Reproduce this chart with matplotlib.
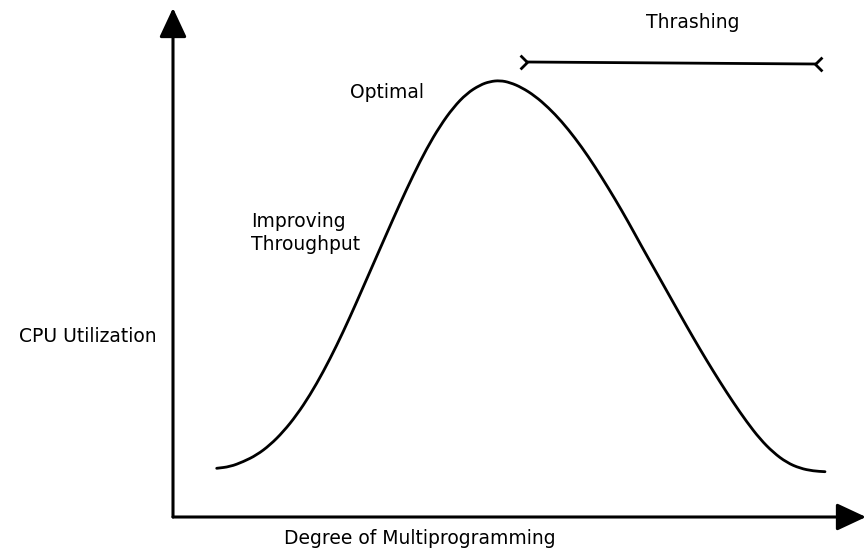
import matplotlib
matplotlib.use("Agg")
import matplotlib.pyplot as plt
from matplotlib.path import Path
from matplotlib.patches import PathPatch

# Diagram coordinates (x to the right, y downward, in image units)
curve_x = [216.7, 230, 243.3, 256.7, 270, 283.3, 296.7, 310, 323.3, 336.7, 350, 361.7,
           373.3, 386.7, 400, 413.3, 426.7, 440, 453.3, 466.7, 480, 490, 500,
           510, 521.7, 535, 548.3, 561.7, 575, 588.3, 601.7, 615, 628.3, 641.7,
           655, 666.7, 680, 693.3, 706.7, 720, 733.3, 746.7, 760, 773.3, 786.7,
           800, 813.3, 825]
curve_y = [468.3, 466.7, 461.7, 455, 445, 431.7, 415, 395, 371.7, 345.5, 317, 290.5,
           264, 233.5, 203.5, 175, 148.5, 126, 107.5, 93.5, 85, 81.5, 80.5,
           82.5, 87.5, 96, 107.5, 121.5, 138, 156.5, 177.3, 199, 222, 246.5,
           270, 290.8, 314.5, 337.8, 360.5, 382, 402.5, 421.8, 439, 452.5, 462.5,
           468.3, 471, 471.7]

thrash_x = [527, 815]
thrash_y = [62, 64]

axis_origin = (173, 517)
y_axis_tip = (173, 8)
x_axis_tip = (866, 517)

labels = {
    "Thrashing": (693, 22),
    "Optimal": (387, 93),
    "Improving\nThroughput": (251, 233),
    "CPU Utilization": (88, 336),
    "Degree of Multiprogramming": (420, 539),
}

fig = plt.figure(figsize=(8.66, 5.49), dpi=100)
ax = fig.add_axes([0, 0, 1, 1])
ax.set_xlim(0, 866)
ax.set_ylim(549, 0)
ax.axis("off")

# axes arrows
arrow_kw = dict(arrowstyle="-|>,head_length=0.9,head_width=0.42", color="black",
                lw=2.2, shrinkA=0, shrinkB=0, mutation_scale=20)
ax.annotate("", xy=y_axis_tip, xytext=axis_origin, arrowprops=arrow_kw)
ax.annotate("", xy=x_axis_tip, xytext=axis_origin, arrowprops=arrow_kw)

# curve: smooth quadratic path through the read points (midpoint smoothing)
pts = list(zip(curve_x, curve_y))
verts = [pts[0]]
codes = [Path.MOVETO]
mid = lambda a, b: ((a[0] + b[0]) / 2, (a[1] + b[1]) / 2)
verts.append(mid(pts[0], pts[1]))
codes.append(Path.LINETO)
for i in range(1, len(pts) - 1):
    verts += [pts[i], mid(pts[i], pts[i + 1])]
    codes += [Path.CURVE3, Path.CURVE3]
verts.append(pts[-1])
codes.append(Path.LINETO)
ax.add_patch(PathPatch(Path(verts, codes), facecolor="none", edgecolor="black",
                       lw=2.0, capstyle="round", joinstyle="round"))

# thrashing bar
ax.plot(thrash_x, thrash_y, color="black", lw=2.0)
left_mark = Path([(-1, 1), (0, 0), (-1, -1)], [Path.MOVETO, Path.LINETO, Path.LINETO])
right_mark = Path([(1, 1), (0, 0), (1, -1)], [Path.MOVETO, Path.LINETO, Path.LINETO])
ax.plot([thrash_x[0]], [thrash_y[0]], marker=left_mark, markersize=10,
        markerfacecolor="none", markeredgecolor="black", markeredgewidth=2.0)
ax.plot([thrash_x[1]], [thrash_y[1]], marker=right_mark, markersize=10,
        markerfacecolor="none", markeredgecolor="black", markeredgewidth=2.0)

fs = 13.5
ax.text(*labels["Thrashing"], "Thrashing", ha="center", va="center", fontsize=fs)
ax.text(*labels["Optimal"], "Optimal", ha="center", va="center", fontsize=fs)
ax.text(*labels["Improving\nThroughput"], "Improving\nThroughput", ha="left",
        va="center", fontsize=fs, linespacing=1.25)
ax.text(*labels["CPU Utilization"], "CPU Utilization", ha="center", va="center",
        fontsize=fs)
ax.text(*labels["Degree of Multiprogramming"], "Degree of Multiprogramming",
        ha="center", va="center", fontsize=fs)

fig.savefig("out.png", dpi=100)
